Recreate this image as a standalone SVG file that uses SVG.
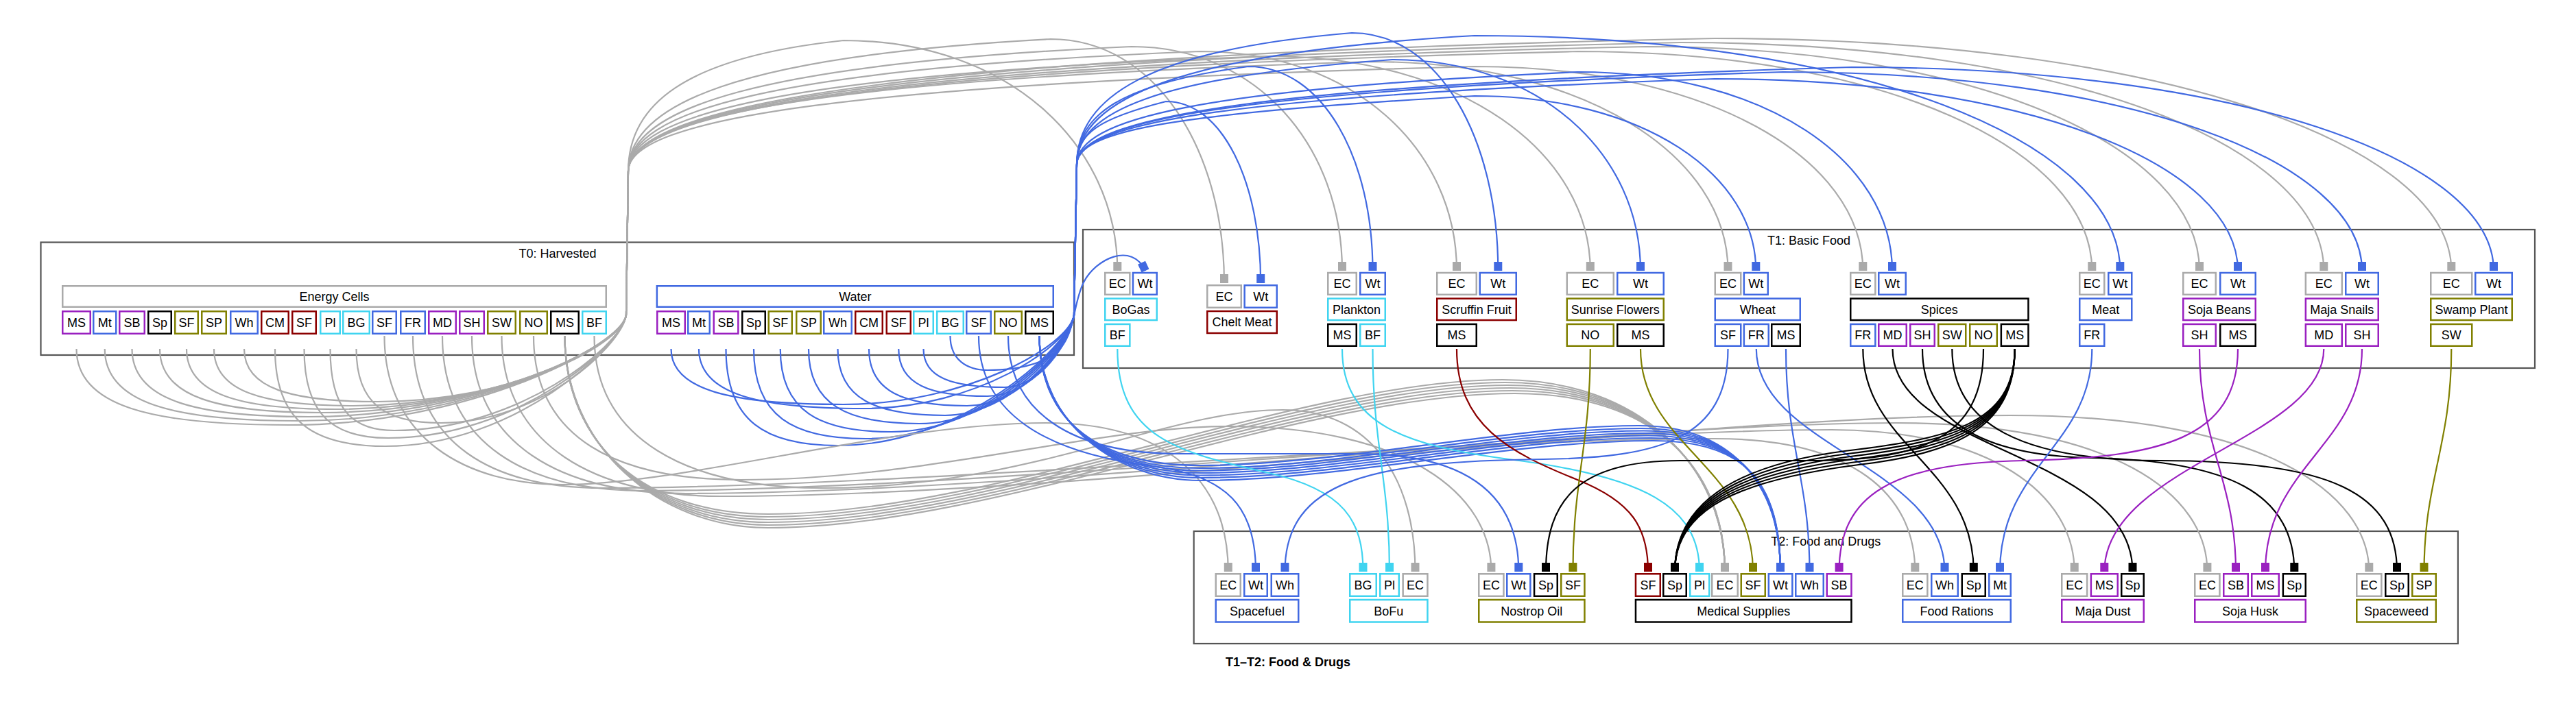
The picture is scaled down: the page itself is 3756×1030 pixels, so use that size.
<svg xmlns="http://www.w3.org/2000/svg" width="3756" height="1030" viewBox="0 0 3756 1030">
<style>
text{font-family:"Liberation Sans",Arial,Helvetica,sans-serif;font-size:18px;text-anchor:middle;fill:#000}
.cl{fill:none;stroke:#555;stroke-width:2.2}
.b{fill:#fff;stroke-width:2.5}
.gy{stroke:#aaaaaa}.bl{stroke:#4169e1}.cy{stroke:#40d4f0}.dr{stroke:#8b0000}.ol{stroke:#808000}.pu{stroke:#9a20c0}.bk{stroke:#000}
.e{fill:none;stroke-width:2.2}
.e.gy{marker-end:url(#m-gy)}.e.bl{marker-end:url(#m-bl)}.e.cy{marker-end:url(#m-cy)}.e.dr{marker-end:url(#m-dr)}.e.ol{marker-end:url(#m-ol)}.e.pu{marker-end:url(#m-pu)}.e.bk{marker-end:url(#m-bk)}
.gl{font-weight:bold}
</style>
<defs>
<marker id="m-gy" markerUnits="userSpaceOnUse" markerWidth="14" markerHeight="13" refX="13" refY="6" orient="auto" overflow="visible"><rect width="13" height="12" fill="#aaaaaa"/></marker>
<marker id="m-bl" markerUnits="userSpaceOnUse" markerWidth="14" markerHeight="13" refX="13" refY="6" orient="auto" overflow="visible"><rect width="13" height="12" fill="#4169e1"/></marker>
<marker id="m-cy" markerUnits="userSpaceOnUse" markerWidth="14" markerHeight="13" refX="13" refY="6" orient="auto" overflow="visible"><rect width="13" height="12" fill="#40d4f0"/></marker>
<marker id="m-dr" markerUnits="userSpaceOnUse" markerWidth="14" markerHeight="13" refX="13" refY="6" orient="auto" overflow="visible"><rect width="13" height="12" fill="#8b0000"/></marker>
<marker id="m-ol" markerUnits="userSpaceOnUse" markerWidth="14" markerHeight="13" refX="13" refY="6" orient="auto" overflow="visible"><rect width="13" height="12" fill="#808000"/></marker>
<marker id="m-pu" markerUnits="userSpaceOnUse" markerWidth="14" markerHeight="13" refX="13" refY="6" orient="auto" overflow="visible"><rect width="13" height="12" fill="#9a20c0"/></marker>
<marker id="m-bk" markerUnits="userSpaceOnUse" markerWidth="14" markerHeight="13" refX="13" refY="6" orient="auto" overflow="visible"><rect width="13" height="12" fill="#000"/></marker>
</defs>
<rect width="3756" height="1030" fill="#fff"/>

<g id="clusters">
<g id="T0"><rect class="cl" x="59.5" y="353.5" width="1506.5" height="164.5"/><text x="813" y="376">T0: Harvested</text></g>
<g id="T1"><rect class="cl" x="1579" y="335" width="2117" height="202"/><text x="2637.5" y="357">T1: Basic Food</text></g>
<g id="T2"><rect class="cl" x="1740.7" y="775" width="1843.2" height="164"/><text x="2662.3" y="796">T2: Food and Drugs</text></g>
</g>

<g id="nodes">
<g id="energy_cells">
<rect class="b gy" x="91.25" y="417.25" width="792.5" height="30.5"/><text x="487.5" y="439">Energy Cells</text>
<rect class="b pu" x="91.25" y="454.25" width="40.5" height="32.5"/><text x="111.5" y="477">MS</text>
<rect class="b bl" x="136.25" y="454.25" width="33" height="32.5"/><text x="152.75" y="477">Mt</text>
<rect class="b pu" x="174.25" y="454.25" width="36.5" height="32.5"/><text x="192.5" y="477">SB</text>
<rect class="b bk" x="216.25" y="454.25" width="33.5" height="32.5"/><text x="233" y="477">Sp</text>
<rect class="b ol" x="255.25" y="454.25" width="33.5" height="32.5"/><text x="272" y="477">SF</text>
<rect class="b ol" x="294.25" y="454.25" width="35.5" height="32.5"/><text x="312" y="477">SP</text>
<rect class="b bl" x="336.25" y="454.25" width="39.5" height="32.5"/><text x="356" y="477">Wh</text>
<rect class="b dr" x="381.25" y="454.25" width="39.5" height="32.5"/><text x="401" y="477">CM</text>
<rect class="b dr" x="426.25" y="454.25" width="34.5" height="32.5"/><text x="443.5" y="477">SF</text>
<rect class="b cy" x="467.25" y="454.25" width="28.5" height="32.5"/><text x="481.5" y="477">Pl</text>
<rect class="b cy" x="500.25" y="454.25" width="38.5" height="32.5"/><text x="519.5" y="477">BG</text>
<rect class="b bl" x="543.25" y="454.25" width="34.5" height="32.5"/><text x="560.5" y="477">SF</text>
<rect class="b bl" x="584.25" y="454.25" width="35.5" height="32.5"/><text x="602" y="477">FR</text>
<rect class="b pu" x="625.25" y="454.25" width="39.5" height="32.5"/><text x="645" y="477">MD</text>
<rect class="b pu" x="670.25" y="454.25" width="35.5" height="32.5"/><text x="688" y="477">SH</text>
<rect class="b ol" x="711.25" y="454.25" width="40.5" height="32.5"/><text x="731.5" y="477">SW</text>
<rect class="b ol" x="758.25" y="454.25" width="39.5" height="32.5"/><text x="778" y="477">NO</text>
<rect class="b bk" x="803.25" y="454.25" width="40.5" height="32.5"/><text x="823.5" y="477">MS</text>
<rect class="b cy" x="849.25" y="454.25" width="34.5" height="32.5"/><text x="866.5" y="477">BF</text>
</g>
<g id="water">
<rect class="b bl" x="957.85" y="417.25" width="577.9" height="30.5"/><text x="1246.8" y="439">Water</text>
<rect class="b pu" x="958.25" y="454.25" width="40.5" height="32.5"/><text x="978.5" y="477">MS</text>
<rect class="b bl" x="1003.25" y="454.25" width="31.5" height="32.5"/><text x="1019" y="477">Mt</text>
<rect class="b pu" x="1040.75" y="454.25" width="35.6" height="32.5"/><text x="1058.5" y="477">SB</text>
<rect class="b bk" x="1082.25" y="454.25" width="33.5" height="32.5"/><text x="1099" y="477">Sp</text>
<rect class="b ol" x="1120.75" y="454.25" width="34" height="32.5"/><text x="1137.75" y="477">SF</text>
<rect class="b ol" x="1161.25" y="454.25" width="35.5" height="32.5"/><text x="1179" y="477">SP</text>
<rect class="b bl" x="1201.25" y="454.25" width="40.5" height="32.5"/><text x="1221.5" y="477">Wh</text>
<rect class="b dr" x="1247.25" y="454.25" width="39.5" height="32.5"/><text x="1267" y="477">CM</text>
<rect class="b dr" x="1292.75" y="454.25" width="35" height="32.5"/><text x="1310.25" y="477">SF</text>
<rect class="b cy" x="1332.25" y="454.25" width="28.5" height="32.5"/><text x="1346.5" y="477">Pl</text>
<rect class="b cy" x="1366.25" y="454.25" width="38.5" height="32.5"/><text x="1385.5" y="477">BG</text>
<rect class="b bl" x="1409.25" y="454.25" width="35.5" height="32.5"/><text x="1427" y="477">SF</text>
<rect class="b ol" x="1450.25" y="454.25" width="39.5" height="32.5"/><text x="1470" y="477">NO</text>
<rect class="b bk" x="1495.25" y="454.25" width="40.5" height="32.5"/><text x="1515.5" y="477">MS</text>
</g>

<g id="bogas">
<rect class="b gy" x="1611.25" y="398" width="36.1" height="31.8"/><text x="1629.3" y="420.3">EC</text>
<rect class="b bl" x="1651.95" y="398" width="34.8" height="31.8"/><text x="1669.4" y="420.3">Wt</text>
<rect class="b cy" x="1611.25" y="435.55" width="75.5" height="31.5"/><text x="1649" y="457.7">BoGas</text>
<rect class="b cy" x="1611.25" y="472.95" width="36.1" height="31.8"/><text x="1629.3" y="495.3">BF</text>
</g>
<g id="chelt_meat">
<rect class="b gy" x="1760.25" y="416.25" width="49.5" height="32.5"/><text x="1785" y="439">EC</text>
<rect class="b bl" x="1814.65" y="416.25" width="47.1" height="32.5"/><text x="1838.2" y="439">Wt</text>
<rect class="b dr" x="1760.25" y="454" width="101.5" height="32"/><text x="1811" y="476.4">Chelt Meat</text>
</g>
<g id="plankton">
<rect class="b gy" x="1936.25" y="398" width="41.5" height="31.8"/><text x="1957" y="420.3">EC</text>
<rect class="b bl" x="1983.25" y="398" width="36.5" height="31.8"/><text x="2001.5" y="420.3">Wt</text>
<rect class="b cy" x="1936.25" y="435.55" width="83.5" height="31.5"/><text x="1978" y="457.7">Plankton</text>
<rect class="b bk" x="1936.25" y="472.95" width="41.5" height="31.8"/><text x="1957" y="495.3">MS</text>
<rect class="b cy" x="1983.25" y="472.95" width="36.5" height="31.8"/><text x="2001.5" y="495.3">BF</text>
</g>
<g id="scruffin_fruit">
<rect class="b gy" x="2095.25" y="398" width="57.5" height="31.8"/><text x="2124" y="420.3">EC</text>
<rect class="b bl" x="2157.75" y="398" width="53" height="31.8"/><text x="2184.3" y="420.3">Wt</text>
<rect class="b dr" x="2095.25" y="435.55" width="115.5" height="31.5"/><text x="2153" y="457.7">Scruffin Fruit</text>
<rect class="b bk" x="2095.25" y="472.95" width="57.5" height="31.8"/><text x="2124" y="495.3">MS</text>
</g>
<g id="sunrise_flowers">
<rect class="b gy" x="2284.75" y="398" width="68" height="31.8"/><text x="2318.8" y="420.3">EC</text>
<rect class="b bl" x="2358.25" y="398" width="67.5" height="31.8"/><text x="2392" y="420.3">Wt</text>
<rect class="b ol" x="2284.75" y="435.55" width="141" height="31.5"/><text x="2355.25" y="457.7">Sunrise Flowers</text>
<rect class="b ol" x="2284.75" y="472.95" width="68" height="31.8"/><text x="2318.8" y="495.3">NO</text>
<rect class="b bk" x="2358.25" y="472.95" width="67.5" height="31.8"/><text x="2392" y="495.3">MS</text>
</g>
<g id="wheat">
<rect class="b gy" x="2500.75" y="398" width="37.5" height="31.8"/><text x="2519.5" y="420.3">EC</text>
<rect class="b bl" x="2542.85" y="398" width="34.9" height="31.8"/><text x="2560.3" y="420.3">Wt</text>
<rect class="b bl" x="2500.75" y="435.55" width="124" height="31.5"/><text x="2562.75" y="457.7">Wheat</text>
<rect class="b bl" x="2500.75" y="472.95" width="37.5" height="31.8"/><text x="2519.5" y="495.3">SF</text>
<rect class="b bl" x="2542.85" y="472.95" width="35.9" height="31.8"/><text x="2560.8" y="495.3">FR</text>
<rect class="b bk" x="2583.25" y="472.95" width="41.5" height="31.8"/><text x="2604" y="495.3">MS</text>
</g>
<g id="spices">
<rect class="b gy" x="2698.25" y="398" width="36.1" height="31.8"/><text x="2716.3" y="420.3">EC</text>
<rect class="b bl" x="2739.25" y="398" width="39.5" height="31.8"/><text x="2759" y="420.3">Wt</text>
<rect class="b bk" x="2698.25" y="435.55" width="259.2" height="31.5"/><text x="2827.85" y="457.7">Spices</text>
<rect class="b bl" x="2698.25" y="472.95" width="36.1" height="31.8"/><text x="2716.3" y="495.3">FR</text>
<rect class="b pu" x="2739.25" y="472.95" width="40.5" height="31.8"/><text x="2759.5" y="495.3">MD</text>
<rect class="b pu" x="2785.25" y="472.95" width="35.5" height="31.8"/><text x="2803" y="495.3">SH</text>
<rect class="b ol" x="2826.25" y="472.95" width="40" height="31.8"/><text x="2846.3" y="495.3">SW</text>
<rect class="b ol" x="2872.25" y="472.95" width="39.5" height="31.8"/><text x="2892" y="495.3">NO</text>
<rect class="b bk" x="2917.85" y="472.95" width="39.6" height="31.8"/><text x="2937.7" y="495.3">MS</text>
</g>
<g id="meat">
<rect class="b gy" x="3032.25" y="398" width="36" height="31.8"/><text x="3050.3" y="420.3">EC</text>
<rect class="b bl" x="3074.25" y="398" width="34" height="31.8"/><text x="3091.3" y="420.3">Wt</text>
<rect class="b bl" x="3032.25" y="435.55" width="76" height="31.5"/><text x="3070.25" y="457.7">Meat</text>
<rect class="b bl" x="3032.25" y="472.95" width="36" height="31.8"/><text x="3050.3" y="495.3">FR</text>
</g>
<g id="soja_beans">
<rect class="b gy" x="3183.25" y="398" width="47.5" height="31.8"/><text x="3207" y="420.3">EC</text>
<rect class="b bl" x="3237.25" y="398" width="51.5" height="31.8"/><text x="3263" y="420.3">Wt</text>
<rect class="b pu" x="3183.25" y="435.55" width="105.5" height="31.5"/><text x="3236" y="457.7">Soja Beans</text>
<rect class="b pu" x="3183.25" y="472.95" width="47.5" height="31.8"/><text x="3207" y="495.3">SH</text>
<rect class="b bk" x="3237.25" y="472.95" width="51.5" height="31.8"/><text x="3263" y="495.3">MS</text>
</g>
<g id="maja_snails">
<rect class="b gy" x="3361.85" y="398" width="52.9" height="31.8"/><text x="3388.3" y="420.3">EC</text>
<rect class="b bl" x="3420.25" y="398" width="47.5" height="31.8"/><text x="3444" y="420.3">Wt</text>
<rect class="b pu" x="3361.85" y="435.55" width="105.9" height="31.5"/><text x="3414.8" y="457.7">Maja Snails</text>
<rect class="b pu" x="3361.85" y="472.95" width="52.9" height="31.8"/><text x="3388.3" y="495.3">MD</text>
<rect class="b pu" x="3420.25" y="472.95" width="47.5" height="31.8"/><text x="3444" y="495.3">SH</text>
</g>
<g id="swamp_plant">
<rect class="b gy" x="3544.25" y="398" width="60" height="31.8"/><text x="3574.3" y="420.3">EC</text>
<rect class="b bl" x="3609.25" y="398" width="53.5" height="31.8"/><text x="3636" y="420.3">Wt</text>
<rect class="b ol" x="3544.25" y="435.55" width="118.5" height="31.5"/><text x="3603.5" y="457.7">Swamp Plant</text>
<rect class="b ol" x="3544.25" y="472.95" width="60" height="31.8"/><text x="3574.3" y="495.3">SW</text>
</g>

<g id="spacefuel">
<rect class="b gy" x="1772.75" y="837.25" width="36" height="32.5"/><text x="1790.8" y="860">EC</text>
<rect class="b bl" x="1814.25" y="837.25" width="33.5" height="32.5"/><text x="1831" y="860">Wt</text>
<rect class="b bl" x="1853.75" y="837.25" width="39.5" height="32.5"/><text x="1873.5" y="860">Wh</text>
<rect class="b bl" x="1772.75" y="875" width="120.5" height="32.5"/><text x="1833" y="897.6">Spacefuel</text>
</g>
<g id="bofu">
<rect class="b cy" x="1968.25" y="837.25" width="38.5" height="32.5"/><text x="1987.5" y="860">BG</text>
<rect class="b cy" x="2012.25" y="837.25" width="27.5" height="32.5"/><text x="2026" y="860">Pl</text>
<rect class="b gy" x="2045.65" y="837.25" width="35.8" height="32.5"/><text x="2063.5" y="860">EC</text>
<rect class="b cy" x="1968.25" y="875" width="113.2" height="32.5"/><text x="2024.85" y="897.6">BoFu</text>
</g>
<g id="nostrop_oil">
<rect class="b gy" x="2156.25" y="837.25" width="36.2" height="32.5"/><text x="2174.4" y="860">EC</text>
<rect class="b bl" x="2197.25" y="837.25" width="34.1" height="32.5"/><text x="2214.3" y="860">Wt</text>
<rect class="b bk" x="2237.05" y="837.25" width="33.7" height="32.5"/><text x="2254" y="860">Sp</text>
<rect class="b ol" x="2276.25" y="837.25" width="34.2" height="32.5"/><text x="2293.4" y="860">SF</text>
<rect class="b ol" x="2156.25" y="875" width="154.2" height="32.5"/><text x="2233.35" y="897.6">Nostrop Oil</text>
</g>
<g id="medical_supplies">
<rect class="b dr" x="2384.95" y="837.25" width="35.8" height="32.5"/><text x="2403" y="860">SF</text>
<rect class="b bk" x="2425.25" y="837.25" width="33.5" height="32.5"/><text x="2442" y="860">Sp</text>
<rect class="b cy" x="2464.25" y="837.25" width="28" height="32.5"/><text x="2478" y="860">Pl</text>
<rect class="b gy" x="2496.25" y="837.25" width="37.5" height="32.5"/><text x="2515" y="860">EC</text>
<rect class="b ol" x="2538.75" y="837.25" width="35" height="32.5"/><text x="2556" y="860">SF</text>
<rect class="b bl" x="2578.85" y="837.25" width="34.5" height="32.5"/><text x="2596" y="860">Wt</text>
<rect class="b bl" x="2618.25" y="837.25" width="40.5" height="32.5"/><text x="2638.5" y="860">Wh</text>
<rect class="b pu" x="2663.75" y="837.25" width="35.7" height="32.5"/><text x="2681.6" y="860">SB</text>
<rect class="b bk" x="2384.95" y="875" width="314.5" height="32.5"/><text x="2542.2" y="897.6">Medical Supplies</text>
</g>
<g id="food_rations">
<rect class="b gy" x="2774.25" y="837.25" width="36.1" height="32.5"/><text x="2792.3" y="860">EC</text>
<rect class="b bl" x="2816.25" y="837.25" width="38.5" height="32.5"/><text x="2835.5" y="860">Wh</text>
<rect class="b bk" x="2860.75" y="837.25" width="34" height="32.5"/><text x="2877.8" y="860">Sp</text>
<rect class="b bl" x="2900.25" y="837.25" width="31.5" height="32.5"/><text x="2916" y="860">Mt</text>
<rect class="b bl" x="2774.25" y="875" width="157.5" height="32.5"/><text x="2853" y="897.6">Food Rations</text>
</g>
<g id="maja_dust">
<rect class="b gy" x="3006.25" y="837.25" width="36.9" height="32.5"/><text x="3024.7" y="860">EC</text>
<rect class="b pu" x="3048.85" y="837.25" width="38.9" height="32.5"/><text x="3068.3" y="860">MS</text>
<rect class="b bk" x="3093.25" y="837.25" width="32.5" height="32.5"/><text x="3109.5" y="860">Sp</text>
<rect class="b pu" x="3006.25" y="875" width="119.5" height="32.5"/><text x="3066" y="897.6">Maja Dust</text>
</g>
<g id="soja_husk">
<rect class="b gy" x="3200.25" y="837.25" width="36.2" height="32.5"/><text x="3218.4" y="860">EC</text>
<rect class="b pu" x="3242.25" y="837.25" width="35.5" height="32.5"/><text x="3260" y="860">SB</text>
<rect class="b pu" x="3283.25" y="837.25" width="39.5" height="32.5"/><text x="3303" y="860">MS</text>
<rect class="b bk" x="3328.85" y="837.25" width="32.9" height="32.5"/><text x="3345.3" y="860">Sp</text>
<rect class="b pu" x="3200.25" y="875" width="161.5" height="32.5"/><text x="3281" y="897.6">Soja Husk</text>
</g>
<g id="spaceweed">
<rect class="b gy" x="3436.25" y="837.25" width="36.1" height="32.5"/><text x="3454.3" y="860">EC</text>
<rect class="b bk" x="3478.25" y="837.25" width="33.5" height="32.5"/><text x="3495" y="860">Sp</text>
<rect class="b ol" x="3517.25" y="837.25" width="34.5" height="32.5"/><text x="3534.5" y="860">SP</text>
<rect class="b ol" x="3436.25" y="875" width="115.5" height="32.5"/><text x="3494" y="897.6">Spaceweed</text>
</g>
</g>

<g id="edges">
<path class="e gy" d="M111.5,509 C111.5,592.25 219.8,620 421,620 C687.2,620 905,505 913,460 L916,250 C916,156 1299.5,87 2450,62 C3013,62 3388.3,211.9 3388.3,395"/>
<path class="e gy" d="M152.75,509 C152.75,587.75 251.5,614 435,614 C693.5,614 905,505 913,460 L916,250 C916,162.5 1262,100 2300,75 C2750,75 3050.3,219 3050.3,395"/>
<path class="e gy" d="M192.5,509 C192.5,583.25 282.6,608 450,608 C700.25,608 905,505 913,460 L916,250 C916,159 1287,93 2400,68 C2884.2,68 3207,215.2 3207,395"/>
<path class="e gy" d="M233,509 C233,578.75 316,602 470,602 C709.25,602 905,505 913,460 L916,250 C916,173.5 1224.5,122 2150,97 C2489.8,97 2716.3,231.1 2716.3,395"/>
<path class="e gy" d="M272,509 C272,575 348.3,597 490,597 C718.25,597 905,505 913,460 L916,250 C916,166 1149.5,107 1850,82 C2131.3,82 2318.8,222.9 2318.8,395"/>
<path class="e gy" d="M312,509 C312,571.25 383,592 515,592 C729.5,592 905,505 913,460 L916,250 C916,153 1312,81 2500,56 C3144.6,56 3574.3,208.6 3574.3,395"/>
<path class="e gy" d="M356,509 C356,566.75 424.25,586 551,586 C745.7,586 905,505 913,460 L916,250 C916,170 1187,115 2000,90 C2311.7,90 2519.5,227.25 2519.5,395"/>
<path class="e gy" d="M401,509 C401,615.5 457.35,651 562,651 C750.65,651 905,505 913,460 L916,250 C916,153.5 1070,82 1532,57 C1683.8,57 1785,217.2 1785,413"/>
<path class="e gy" d="M443.5,509 C443.5,606.5 486.4,639 566,639 C752.45,639 905,505 913,460 L916,250 C916,162.5 1124.5,100 1750,75 C1974.4,75 2124,219 2124,395"/>
<path class="e gy" d="M481.5,509 C481.5,598.25 514.2,628 575,628 C756.5,628 905,505 913,460 L916,250 C916,159 1099.5,93 1650,68 C1834.2,68 1957,215.2 1957,395"/>
<path class="e gy" d="M519.5,509 C519.5,590 562.7,617 643,617 C787.1,617 905,505 913,460 L916,250 C916,154.5 994.5,84 1230,59 C1469.6,59 1629.3,210.2 1629.3,395"/>
<path class="e bl" d="M978.5,509 C978.5,569.25 1066.5,590 1230,590 C1408.75,590 1558,505 1566,460 L1570,240 C1570,172.5 1827.5,130 2600,105 C3106.4,105 3444,235.5 3444,395"/>
<path class="e bl" d="M1019,509 C1019,574.25 1103.35,596 1260,596 C1422.25,596 1558,505 1566,460 L1570,240 C1570,146 1715,77 2150,52 C2714.8,52 3091.3,206.35 3091.3,395"/>
<path class="e bl" d="M1058.5,509 C1058.5,614.75 1115.7,650 1222,650 C1405.15,650 1558,505 1566,460 L1570,240 C1570,177.5 1802.5,140 2500,115 C2957.8,115 3263,241 3263,395"/>
<path class="e bl" d="M1099,509 C1099,607.25 1156,640 1262,640 C1423.15,640 1558,505 1566,460 L1570,240 C1570,172.5 1752.5,130 2300,105 C2575.4,105 2759,235.5 2759,395"/>
<path class="e bl" d="M1137.75,509 C1137.75,599.75 1194.5,630 1300,630 C1440.25,630 1558,505 1566,460 L1570,240 C1570,163.5 1685,112 2030,87 C2247.2,87 2392,225.6 2392,395"/>
<path class="e bl" d="M1179,509 C1179,590.75 1235.35,618 1340,618 C1458.25,618 1558,505 1566,460 L1570,240 C1570,169 1852.5,123 2700,98 C3261.6,98 3636,231.65 3636,395"/>
<path class="e bl" d="M1221.5,509 C1221.5,581.75 1276.3,606 1378,606 C1475.35,606 1558,505 1566,460 L1570,240 C1570,190 1715,165 2150,140 C2396.2,140 2560.3,254.75 2560.3,395"/>
<path class="e bl" d="M1267,509 C1267,571.25 1317.05,592 1410,592 C1489.75,592 1558,505 1566,460 L1570,240 C1570,194 1602.5,173 1700,148 C1782.9,148 1838.2,267.25 1838.2,413"/>
<path class="e bl" d="M1310.25,509 C1310.25,560.75 1355.7,578 1440,578 C1503.25,578 1558,505 1566,460 L1570,240 C1570,144 1670.25,73 1971,48 C2099,48 2184.3,204.15 2184.3,395"/>
<path class="e bl" d="M1346.5,509 C1346.5,551 1388,565 1465,565 C1514.5,565 1558,505 1566,460 L1570,240 C1570,168.5 1632.5,122 1820,97 C1928.9,97 2001.5,231.1 2001.5,395"/>
<path class="e bl" d="M1385.5,490 C1385.5,525 1410,540 1440,540 C1490,540 1535,528 1552,500 C1568,474 1566,440 1580,412 C1597,378 1650,352 1670,395"/>
<path class="e gy" d="M560.5,490 C560.5,640 680,707 820,707 C1000,707 1300,617 1525,617 C1700,617 1790.8,700 1790.8,834"/>
<path class="e gy" d="M602,490 C602,650 720,712 880,712 C1300,712 2100,640 2500,640 C2700,640 2792.3,720 2792.3,834"/>
<path class="e gy" d="M645,490 C645,650 770,716 940,716 C1400,716 2250,627 2671,627 C2900,627 3024.7,720 3024.7,834"/>
<path class="e gy" d="M688,490 C688,650 820,720 1000,720 C1500,720 2350,617 2764,617 C3080,617 3218.4,720 3218.4,834"/>
<path class="e gy" d="M731.5,490 C731.5,650 870,724 1050,724 C1600,724 2450,606 2931,606 C3300,606 3454.3,720 3454.3,834"/>
<path class="e gy" d="M778,490 C778,640 900,700 1080,700 C1350,700 1600,622 1790,622 C2050,622 2174.4,720 2174.4,834"/>
<path class="e gy" d="M866.5,490 C866.5,640 1000,712 1200,712 C1500,712 1700,598 1870,598 C2000,598 2063.5,700 2063.5,834"/>
<path class="e gy" d="M823.5,490 C823.5,650 941,750 1120,750 C1450,750 1900,554 2191,554 C2391,554 2515,680 2515,834"/>
<path class="e gy" d="M823.5,490 C823.5,650 944.5,754 1120,754 C1450,754 1900,558 2194.5,558 C2394.5,558 2515,680 2515,834"/>
<path class="e gy" d="M823.5,490 C823.5,650 948,758 1120,758 C1450,758 1900,562 2198,562 C2398,562 2515,680 2515,834"/>
<path class="e gy" d="M823.5,490 C823.5,650 951.5,762 1120,762 C1450,762 1900,566 2201.5,566 C2401.5,566 2515,680 2515,834"/>
<path class="e gy" d="M823.5,490 C823.5,650 955,766 1120,766 C1450,766 1900,570 2205,570 C2405,570 2515,680 2515,834"/>
<path class="e gy" d="M823.5,490 C823.5,650 958.5,770 1120,770 C1450,770 1900,574 2208.5,574 C2408.5,574 2515,680 2515,834"/>
<path class="e bl" d="M1427,490 C1427,600 1520,660 1680,680 C1790,694 1831,740 1831,834"/>
<path class="e bl" d="M1470,490 C1470,600 1560,662 1720,662 L1980,662 C2150,662 2214.3,730 2214.3,834"/>
<path class="e bl" d="M1515.5,490 C1515.5,620 1609,679 1750,679 C1950,679 2200,621 2389,621 C2519,621 2596,700 2596,834"/>
<path class="e bl" d="M1515.5,490 C1515.5,620 1613,683 1750,683 C1950,683 2200,625 2393,625 C2523,625 2596,700 2596,834"/>
<path class="e bl" d="M1515.5,490 C1515.5,620 1616.5,686.5 1750,686.5 C1950,686.5 2200,628.5 2396.5,628.5 C2526.5,628.5 2596,700 2596,834"/>
<path class="e bl" d="M1515.5,490 C1515.5,620 1620,690 1750,690 C1950,690 2200,632 2400,632 C2530,632 2596,700 2596,834"/>
<path class="e bl" d="M1515.5,490 C1515.5,620 1623.5,693.5 1750,693.5 C1950,693.5 2200,635.5 2403.5,635.5 C2533.5,635.5 2596,700 2596,834"/>
<path class="e bl" d="M1515.5,490 C1515.5,620 1627,697 1750,697 C1950,697 2200,639 2407,639 C2537,639 2596,700 2596,834"/>
<path class="e bl" d="M1515.5,490 C1515.5,620 1631,701 1750,701 C1950,701 2200,643 2411,643 C2541,643 2596,700 2596,834"/>
<path class="e cy" d="M1629.3,509 C1629.3,640 1720,660 1850,690 C1960,715 1987.5,760 1987.5,834"/>
<path class="e cy" d="M1957,509 C1957,620 2050,650 2200,670 C2400,695 2478,740 2478,834"/>
<path class="e cy" d="M2001.5,509 C2001.5,650 2026,700 2026,834"/>
<path class="e dr" d="M2124,509 C2124,620 2200,660 2300,700 C2380,732 2403,770 2403,834"/>
<path class="e ol" d="M2318.8,509 C2318.8,650 2293.4,700 2293.4,834"/>
<path class="e ol" d="M2392,509 C2392,650 2556,680 2556,834"/>
<path class="e bl" d="M2519.5,509 C2519.5,640 2420,668 2250,670 C2000,673 1873.5,700 1873.5,834"/>
<path class="e bl" d="M2560.8,509 C2560.8,650 2835.5,680 2835.5,834"/>
<path class="e bl" d="M2604,509 C2604,650 2638.5,700 2638.5,834"/>
<path class="e bk" d="M2716.3,509 C2716.3,650 2877.8,680 2877.8,834"/>
<path class="e bk" d="M2759.5,509 C2759.5,660 3109.5,660 3109.5,834"/>
<path class="e bk" d="M2803,509 C2803,620 2900,665 3050,668 C3250,672 3345.3,720 3345.3,834"/>
<path class="e bk" d="M2846.3,509 C2846.3,620 2950,672 3150,672 C3400,672 3495,720 3495,834"/>
<path class="e bk" d="M2892,509 C2892,640 2800,670 2650,672 L2450,672 C2300,672 2254,730 2254,834"/>
<path class="e bk" d="M2937.7,509 C2937.7,620 2840,640 2690,658 C2520,680 2442,740 2442,834"/>
<path class="e bk" d="M2937.7,509 C2937.7,620 2844,644 2694,662 C2524,684 2442,740 2442,834"/>
<path class="e bk" d="M2937.7,509 C2937.7,620 2848,648 2698,666 C2528,688 2442,740 2442,834"/>
<path class="e bk" d="M2937.7,509 C2937.7,620 2852,652 2702,670 C2532,692 2442,740 2442,834"/>
<path class="e bk" d="M2937.7,509 C2937.7,620 2856,656 2706,674 C2536,696 2442,740 2442,834"/>
<path class="e bk" d="M2937.7,509 C2937.7,620 2860,660 2710,678 C2540,700 2442,740 2442,834"/>
<path class="e bl" d="M3050.3,509 C3050.3,650 2916,680 2916,834"/>
<path class="e pu" d="M3207,509 C3207,650 3260,700 3260,834"/>
<path class="e pu" d="M3263,509 C3263,640 3150,668 2950,672 C2760,676 2681.6,720 2681.6,834"/>
<path class="e pu" d="M3388.3,509 C3388.3,640 3068.3,680 3068.3,834"/>
<path class="e pu" d="M3444,509 C3444,650 3303,680 3303,834"/>
<path class="e ol" d="M3574.3,509 C3574.3,650 3534.5,700 3534.5,834"/>
</g>

<text class="gl" x="1878" y="971.7">T1–T2: Food &amp; Drugs</text>
</svg>
